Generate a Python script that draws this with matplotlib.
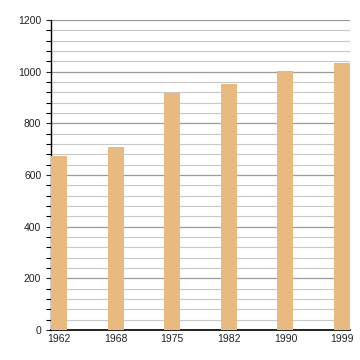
import matplotlib

matplotlib.use("Agg")

import matplotlib.pyplot as plt
from matplotlib.ticker import MultipleLocator

years = ["1962", "1968", "1975", "1982", "1990", "1999"]
values = [675, 708, 916, 952, 1003, 1035]

plt.rcParams["font.family"] = ["Liberation Sans", "DejaVu Sans"]

fig = plt.figure(figsize=(3.6, 3.6), dpi=100)
ax = fig.add_axes([0.1417, 0.0833, 0.8306, 0.861])

w = 0.283
x = range(len(years))
ax.bar(x, values, width=w, color="#e8b980", zorder=3)

ax.set_xlim(-w / 2, len(years) - 1 + w / 2)
ax.set_ylim(0, 1200)
ax.set_xticks(list(x))
ax.set_xticklabels(years)
ax.yaxis.set_major_locator(MultipleLocator(200))
ax.yaxis.set_minor_locator(MultipleLocator(40))

ax.grid(axis="y", which="major", color="#9a9a9a", linewidth=0.9, zorder=1)
ax.grid(axis="y", which="minor", color="#c8c8c8", linewidth=0.8, zorder=1)

for side in ("top", "right"):
    ax.spines[side].set_visible(False)
ax.spines["left"].set_linewidth(1.0)
ax.spines["bottom"].set_linewidth(1.2)

ax.tick_params(axis="x", length=0, pad=3, labelsize=7.5, colors="#222222")
ax.tick_params(axis="y", which="major", length=3.5, width=0.8, pad=3.5,
               labelsize=7.5, colors="#222222")
ax.tick_params(axis="y", which="minor", length=3.5, width=0.8)

fig.savefig("out.png", dpi=100)
